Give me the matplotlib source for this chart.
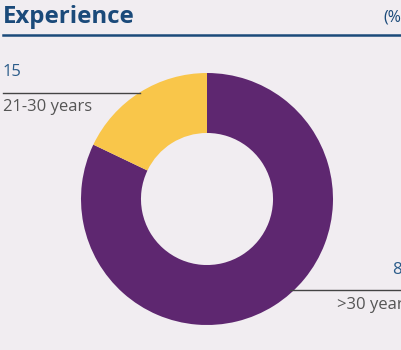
import matplotlib.pyplot as plt
from matplotlib.lines import Line2D

# data
labels = ["21-30 years", ">30 years"]
values = [15, 85]            # printed values
shares = [17.9, 82.1]        # wedge sizes as drawn in the picture
colors = ["#F9C64A", "#5E2770"]

W, H = 401, 350
BG = "#F1EDF1"
BLUE = "#1B4A7A"

plt.rcParams['font.family'] = ['Open Sans', 'DejaVu Sans']

fig = plt.figure(figsize=(W / 100, H / 100), dpi=100, facecolor=BG)


def fx(x):
    return x / W


def fy(y):
    return 1 - y / H


# title + rule
fig.text(fx(3), fy(17), "Experience", fontsize=17.3, fontweight="bold",
         color=BLUE, va="center", ha="left")
fig.text(fx(383), fy(17), "(%)", fontsize=11.5, color=BLUE, va="center", ha="left")
fig.add_artist(Line2D([fx(3), 1], [fy(35), fy(35)], color=BLUE, linewidth=1.8))

# label lines (behind the donut)
fig.add_artist(Line2D([fx(3), fx(140)], [fy(93), fy(93)], color="#444444", linewidth=1))
fig.add_artist(Line2D([fx(290), 1], [fy(290), fy(290)], color="#444444", linewidth=1))

# donut
ax = fig.add_axes([fx(81), fy(325), 252 / W, 252 / H])
ax.set_facecolor("none")
ax.pie(shares[::-1], colors=colors[::-1], startangle=90, counterclock=False,
       radius=1, wedgeprops=dict(width=0.476, linewidth=0))
ax.set_xlim(-1, 1)
ax.set_ylim(-1, 1)
ax.set_aspect("equal")
ax.axis("off")

# labels
fig.text(fx(3), fy(72), str(values[0]), fontsize=12, color="#2B5C8A",
         va="center", ha="left")
fig.text(fx(3), fy(107), labels[0], fontsize=12, color="#555555",
         va="center", ha="left")

fig.text(fx(392), fy(270), str(values[1]), fontsize=12, color="#2B5C8A",
         va="center", ha="left")
fig.text(fx(337), fy(305), labels[1], fontsize=12, color="#555555",
         va="center", ha="left")

fig.savefig("out.png", dpi=100, facecolor=BG)
